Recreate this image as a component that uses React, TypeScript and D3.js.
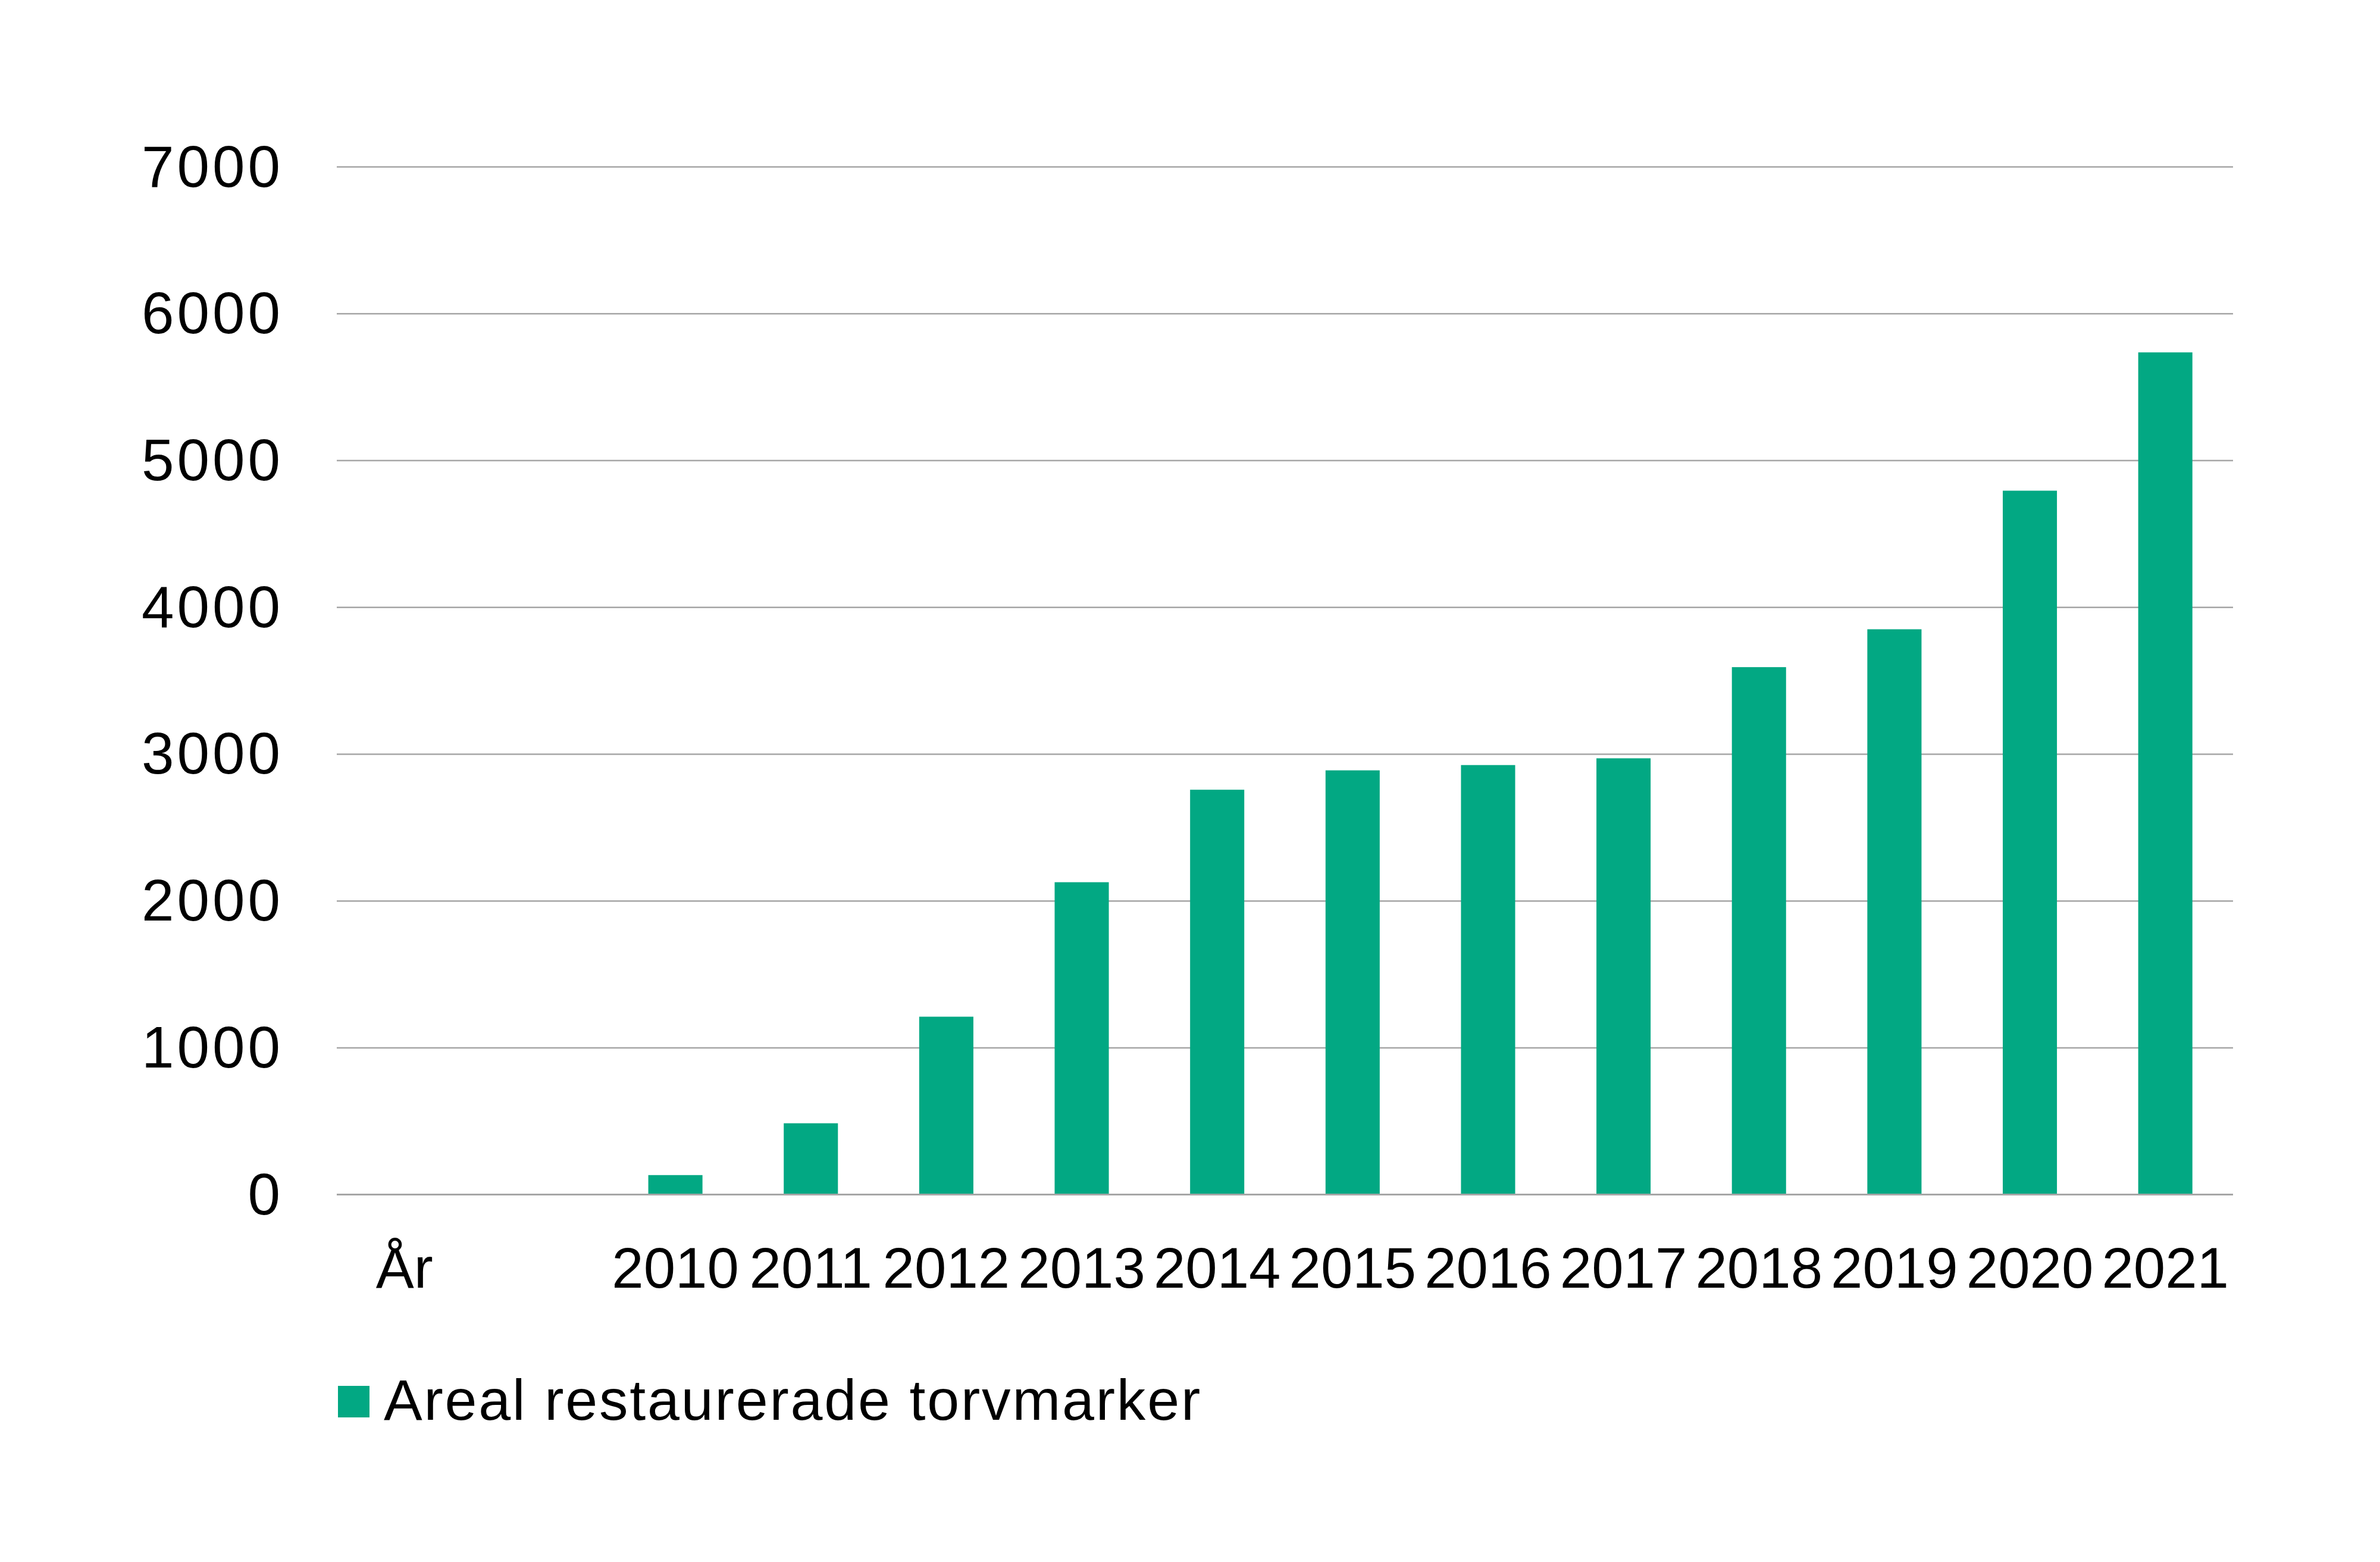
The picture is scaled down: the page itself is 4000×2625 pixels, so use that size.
import React from "react";
import * as d3 from "d3";

const categories: string[] = ["År", " ", "2010", "2011", "2012", "2013", "2014", "2015", "2016", "2017", "2018", "2019", "2020", "2021"];
const values: (number | null)[] = [null, null, 133, 486, 1212, 2128, 2758, 2890, 2926, 2972, 3593, 3851, 4795, 5737];
const yTicks: number[] = [0, 1000, 2000, 3000, 4000, 5000, 6000, 7000];
const seriesName = "Areal restaurerade torvmarker";

const W = 4000;
const H = 2625;
const left = 566;
const right = 3753;
const top = 280.6;
const bottom = 2007.6;
const green = "#02A883";
const grid = "#A6A6A6";
const font = "'Liberation Sans', Arial, sans-serif";

export default function App() {
  const x = d3.scaleBand<string>().domain(categories).range([left, right]).padding(0);
  const y = d3.scaleLinear().domain([0, 7000]).range([bottom, top]);
  const bw = x.bandwidth();
  const barW = bw * 0.4;

  return (
    <svg width={W} height={H} style={{ position: "absolute", left: 0, top: 0, background: "#fff" }}>
      <rect x={0} y={0} width={W} height={H} fill="#fff" />
      {yTicks.map((t) => (
        <g key={t}>
          {t !== 0 && (
            <line x1={left} x2={right} y1={y(t)} y2={y(t)} stroke={grid} strokeWidth={2.5} />
          )}
          <text
            x={476}
            y={y(t) + 33}
            textAnchor="end"
            fontFamily={font}
            fontSize={98}
            letterSpacing={5}
            fill="#000"
          >
            {t}
          </text>
        </g>
      ))}
      {categories.map((c, i) => {
        const v = values[i];
        if (v == null) return null;
        return (
          <rect
            key={"b" + i}
            x={(x(c) as number) + (bw - barW) / 2}
            y={y(v)}
            width={barW}
            height={y(0) - y(v)}
            fill={green}
          />
        );
      })}
      <line x1={left} x2={right} y1={y(0)} y2={y(0)} stroke={grid} strokeWidth={3} />
      {categories.map((c, i) => (
        <text
          key={"t" + i}
          x={(x(c) as number) + bw / 2}
          y={2164}
          textAnchor="middle"
          fontFamily={font}
          fontSize={96}
          fill="#000"
        >
          {c.trim()}
        </text>
      ))}
      <rect x={568} y={2329} width={53} height={53} fill={green} />
      <text x={645} y={2386} fontFamily={font} fontSize={97} fill="#000" letterSpacing={2.8}>
        {seriesName}
      </text>
    </svg>
  );
}
